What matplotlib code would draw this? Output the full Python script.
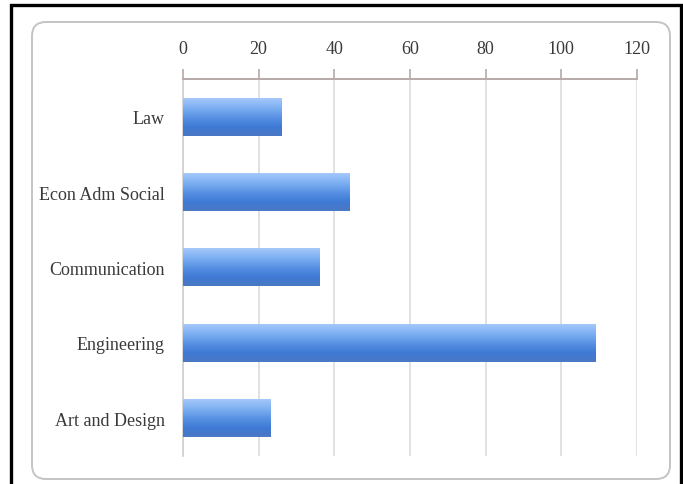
import numpy as np
import matplotlib
matplotlib.use("Agg")
import matplotlib.pyplot as plt
from matplotlib.patches import FancyBboxPatch, Rectangle
from matplotlib.colors import LinearSegmentedColormap

# data
categories = ["Law", "Econ Adm Social", "Communication", "Engineering", "Art and Design"]
values = [26, 44, 36, 109, 23]
x_ticks = [0, 20, 40, 60, 80, 100, 120]

fig = plt.figure(figsize=(6.83, 4.85), dpi=100)

# black outer frame and rounded chart-area box (inches), kept behind the axes
fig.patches.append(Rectangle((0.11, -0.2), 6.70, 4.99, transform=fig.dpi_scale_trans,
                             fill=False, ec="black", lw=2.4, zorder=-2))
fig.patches.append(FancyBboxPatch((0.32, 0.05), 6.38, 4.57,
                                  boxstyle="round,pad=0,rounding_size=0.14",
                                  transform=fig.dpi_scale_trans,
                                  fc="white", ec="#c4c4c4", lw=1.4, zorder=-1))

ax = fig.add_axes([183 / 683, 1 - 457 / 485, (637 - 183) / 683, (457 - 80) / 485])
ax.patch.set_alpha(0)

pos = np.arange(len(categories))
bars = ax.barh(pos, values, height=0.5, color="#5f97e6", zorder=2)

# vertical blue gradient on each bar (light on top, darker at the bottom)
grad_cmap = LinearSegmentedColormap.from_list(
    "bar", ["#a4c8fa", "#7eb0f2", "#5a93e4", "#3f7ad6", "#4a78c4"])
grad = np.linspace(0, 1, 64).reshape(-1, 1)
for b in bars:
    x0, y0 = b.get_x(), b.get_y()
    x1, y1 = x0 + b.get_width(), y0 + b.get_height()
    ax.imshow(grad, cmap=grad_cmap, aspect="auto", origin="upper",
              extent=(x0, x1, y1, y0), zorder=3, interpolation="bilinear")
    b.set_visible(False)

ax.set_xlim(0, 120)
ax.set_ylim(len(categories) - 0.5, -0.5)

ax.xaxis.tick_top()
ax.set_xticks(x_ticks)
ax.set_xticklabels([str(t) for t in x_ticks])
ax.set_yticks(pos)
ax.set_yticklabels(categories)

for lab in ax.get_xticklabels() + ax.get_yticklabels():
    lab.set_fontfamily("Liberation Serif")
    lab.set_fontsize(13)
    lab.set_color("#3a3a3a")

ax.tick_params(axis="x", direction="out", length=7, width=1.2, color="#b5aaa8",
               pad=9)
ax.tick_params(axis="y", length=0, pad=13)

ax.grid(axis="x", color="#dcdcdc", lw=1.2, zorder=1)
for side in ["right", "bottom"]:
    ax.spines[side].set_visible(False)
ax.spines["top"].set_color("#b5aaa8")
ax.spines["top"].set_linewidth(1.4)
ax.spines["left"].set_color("#cfcfcf")
ax.spines["left"].set_linewidth(1.2)

fig.savefig("out.png", dpi=100)
